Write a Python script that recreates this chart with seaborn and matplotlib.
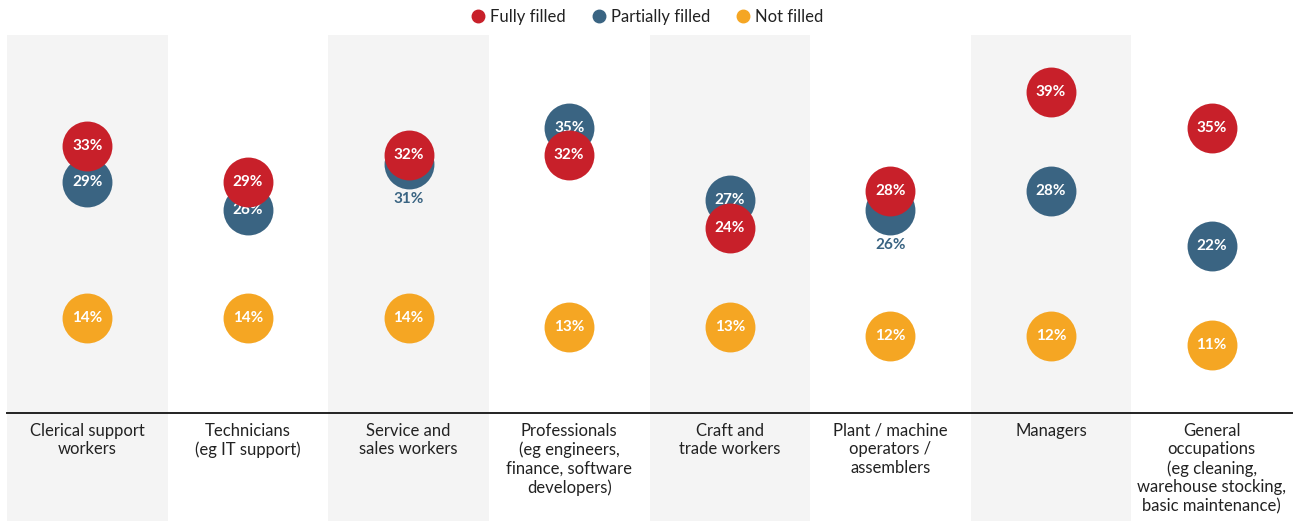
import pandas as pd
import matplotlib.pyplot as plt
import seaborn as sns

categories = [
    "Clerical support\nworkers",
    "Technicians\n(eg IT support)",
    "Service and\nsales workers",
    "Professionals\n(eg engineers,\nfinance, software\ndevelopers)",
    "Craft and\ntrade workers",
    "Plant / machine\noperators /\nassemblers",
    "Managers",
    "General\noccupations\n(eg cleaning,\nwarehouse stocking,\nbasic maintenance)",
]
fully_filled = [33, 29, 32, 32, 24, 28, 39, 35]
partially_filled = [29, 26, 31, 35, 27, 26, 28, 22]
not_filled = [14, 14, 14, 13, 13, 12, 12, 11]

colors = {"Fully filled": "#C8202A", "Partially filled": "#3A6482", "Not filled": "#F5A623"}

sns.set_style("white")
plt.rcParams["font.family"] = ["Lato", "DejaVu Sans"]

fig = plt.figure(figsize=(12.93, 5.21), dpi=100)
ax = fig.add_axes([7 / 1293, (521 - 413) / 521, 1285 / 1293, (413 - 35) / 521])

x = list(range(len(categories)))

# grey bands behind every other category, running down through the label area
for i in x[::2]:
    ax.axvspan(i - 0.5, i + 0.5, ymin=-0.3, ymax=1, color="#F4F4F4", lw=0, zorder=0, clip_on=False)

layers = [("Not filled", not_filled, 2), ("Partially filled", partially_filled, 4), ("Fully filled", fully_filled, 6)]
for name, vals, z in layers:
    df = pd.DataFrame({"x": x, "v": vals})
    sns.scatterplot(data=df, x="x", y="v", color=colors[name], s=1290, linewidth=0,
                    ax=ax, zorder=z, label=name, legend=False)

# value labels
lab = dict(fontsize=11, fontweight="bold", ha="center", va="center")
for i in x:
    ax.text(i, not_filled[i], f"{not_filled[i]}%", color="white", zorder=3, **lab)
    ax.text(i, fully_filled[i], f"{fully_filled[i]}%", color="white", zorder=7, **lab)
    if abs(fully_filled[i] - partially_filled[i]) <= 2:
        ax.annotate(f"{partially_filled[i]}%", (i, partially_filled[i]), xytext=(0, -35),
                    textcoords="offset pixels", color=colors["Partially filled"], zorder=7, **lab)
    else:
        ax.text(i, partially_filled[i], f"{partially_filled[i]}%", color="white", zorder=5, **lab)

ax.set_xlim(-0.5, len(categories) - 0.5)
ax.set_ylim(3.5, 45.3)
ax.set_xticks(x)
ax.set_xticklabels(categories, fontsize=12, color="#222222", linespacing=1.2)
ax.tick_params(axis="x", length=0, pad=7)
ax.set_yticks([])
ax.set_xlabel("")
ax.set_ylabel("")
for side in ["top", "left", "right"]:
    ax.spines[side].set_visible(False)
ax.spines["bottom"].set_color("#222222")
ax.spines["bottom"].set_linewidth(1.4)
ax.patch.set_alpha(0)

handles = [plt.Line2D([], [], marker="o", ls="", color=colors[n], markersize=9) for n in colors]
fig.legend(handles, list(colors), loc="center", bbox_to_anchor=(0.50, 1 - 17 / 521), ncol=3,
           frameon=False, fontsize=12, handletextpad=0.2, columnspacing=1.5,
           handlelength=1.0, labelcolor="#222222")

fig.savefig("out.png", dpi=100)
